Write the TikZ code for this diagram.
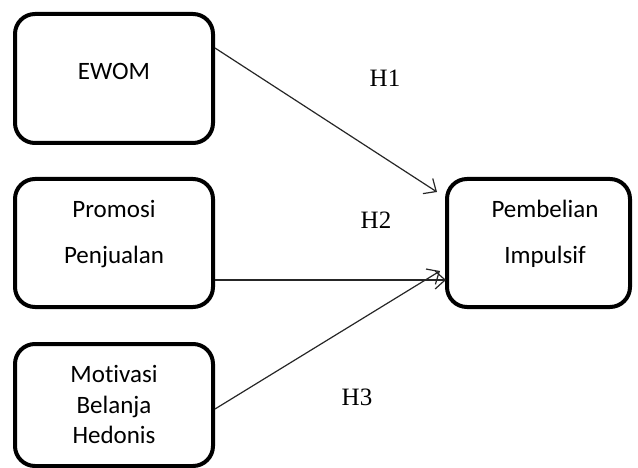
\documentclass[tikz,border=0pt]{standalone}
\usepackage{fontspec}
\setmainfont{Carlito}[Ligatures={NoCommon}]
\newfontfamily\hfont{Liberation Serif}
\usetikzlibrary{arrows.meta}
\tikzset{
  varbox/.style={draw=black, line width=4pt, rounded corners=20pt, minimum width=198pt, inner sep=0pt},
  boxtext/.style={font=\fontsize{25}{30}\selectfont, inner sep=0pt, anchor=base},
  hlabel/.style={font=\hfont\fontsize{25}{30}\selectfont, inner sep=0pt},
  conn/.style={line width=1.2pt, draw=black!85, -{Straight Barb[length=10pt,width=18pt,line width=1.2pt]}}
}
\begin{document}
\begin{tikzpicture}[x=1pt,y=-1pt]
\useasboundingbox (0,0) rectangle (638,468);
\node[varbox, minimum height=129pt] (ewom) at (114,78.5) {};
\node[varbox, minimum height=128pt] (promo) at (114,243) {};
\node[varbox, minimum height=122pt] (motiv) at (114,405) {};
\node[varbox, minimum width=183pt, minimum height=128pt] (imp) at (538.5,243) {};
% texts
\node[boxtext] (t1) at (114,80) {EWOM};
\node[boxtext] (t2a) at (114,218) {Promosi};
\node[boxtext] (t2b) at (114,264) {Penjualan};
\node[boxtext] (t3a) at (114,382) {Motivasi};
\node[boxtext] (t3b) at (114,413) {Belanja};
\node[boxtext] (t3c) at (114,443) {Hedonis};
\node[boxtext] (t4a) at (545,218) {Pembelian};
\node[boxtext] (t4b) at (545,264) {Impulsif};
% labels
\node[hlabel] (h1) at (385,78) {H1};
\node[hlabel] (h2) at (376,220) {H2};
\node[hlabel] (h3) at (357,397) {H3};
% connectors
\coordinate (s1) at (215,48);
\coordinate (e1) at (437,192);
\coordinate (s2) at (215,280);
\coordinate (e2) at (446,280);
\coordinate (s3) at (215,409);
\coordinate (e3) at (440,271);
\draw[conn] (s1) -- (e1);
\draw[conn] (s2) -- (e2);
\draw[conn] (s3) -- (e3);
\end{tikzpicture}
\end{document}
